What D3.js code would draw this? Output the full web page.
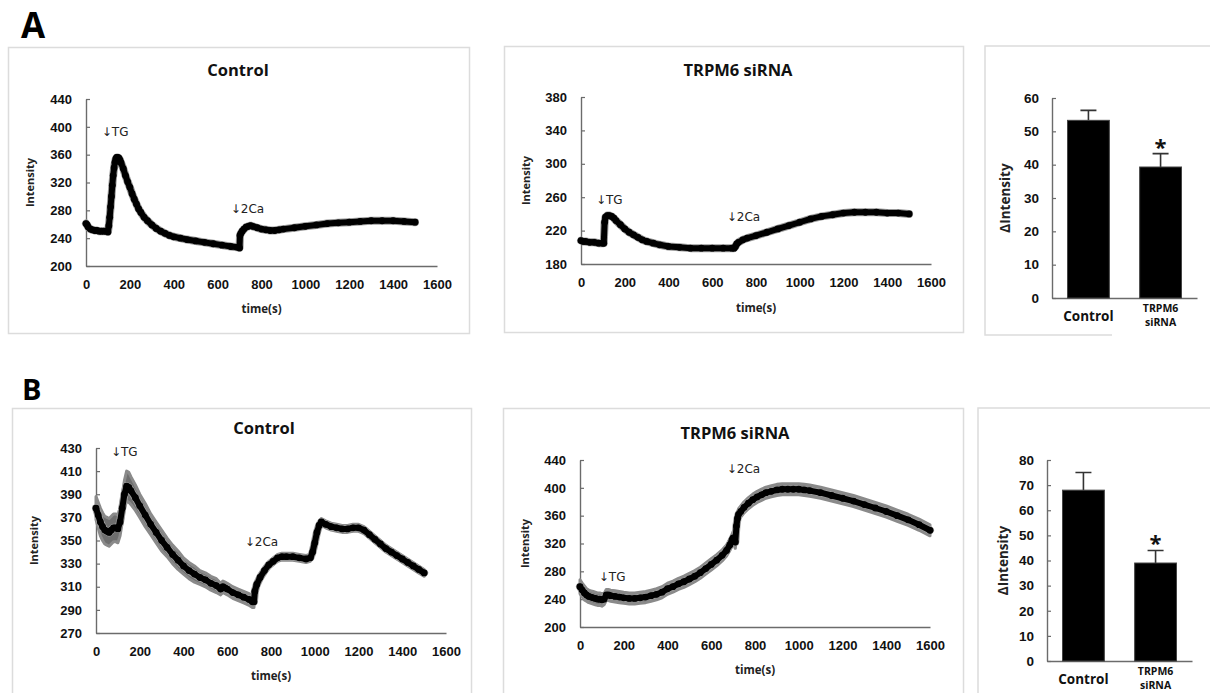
<!DOCTYPE html>
<html>
<head>
<meta charset="utf-8">
<script src="https://cdn.jsdelivr.net/npm/d3@7"></script>
<style>
    body { margin: 0; background: #fff; }
    svg { font-family: "Open Sans", Lato, "DejaVu Sans", sans-serif; }
</style>
</head>
<body>
<div id="chart"></div>
<script>
// ---- data ----
const xTicks = [0, 200, 400, 600, 800, 1000, 1200, 1400, 1600]

// A, control
const aCtrlTime = [0, 5, 10, 20, 30, 40, 50, 60, 70, 80, 90, 100, 104, 108, 112, 116, 120, 124, 128, 132,
    136, 140, 145, 150, 155, 160, 170, 180, 190, 200, 210, 220, 230, 240, 250, 265, 280, 300, 320, 340,
    360, 380, 400, 430, 460, 500, 540, 580, 620, 660, 690, 700, 702, 706, 712, 720, 730, 740, 750, 760,
    780, 800, 820, 840, 860, 880, 900, 950, 1000, 1050, 1100, 1150, 1200, 1250, 1300, 1350, 1400, 1450, 1500]
const aCtrlMean = [261, 259, 256, 253, 252, 251, 251, 250, 250, 250, 250, 249, 258, 270, 285, 300, 316, 330, 341, 349,
    354, 356, 356, 355, 352, 348, 340, 330, 321, 313, 304, 296, 289, 282, 277, 270, 265, 259, 254, 250,
    247, 244, 242, 240, 238, 236, 234, 232, 230, 228, 227, 226, 244, 247, 250, 253, 256, 257, 258, 257,
    255, 253, 252, 251, 251, 252, 253, 255, 257, 259, 261, 262, 263, 264, 265, 265, 265, 264, 263]
const aCtrlYTicks = [200, 240, 280, 320, 360, 400, 440]

// A, TRPM6 siRNA
const aSiTime = [0, 10, 20, 40, 60, 80, 100, 104, 108, 112, 120, 130, 140, 150, 160, 180, 200, 220, 240, 260,
    280, 300, 330, 360, 400, 450, 500, 550, 600, 650, 690, 700, 706, 712, 720, 740, 760, 800, 850, 900,
    950, 1000, 1050, 1100, 1150, 1200, 1250, 1300, 1350, 1400, 1450, 1500]
const aSiMean = [208, 207, 207, 206, 206, 205, 205, 205, 230, 236, 238, 238, 237, 235, 232, 227, 222, 218, 215, 212,
    209, 207, 205, 203, 201, 200, 199, 199, 199, 199, 199, 199, 201, 204, 206, 209, 211, 214, 218, 222,
    226, 230, 234, 237, 239, 241, 242, 242, 242, 241, 241, 240]
const aSiYTicks = [180, 220, 260, 300, 340, 380]

// B, control
const bCtrlTime = [0, 10, 20, 30, 40, 50, 60, 70, 80, 90, 100, 110, 120, 130, 140, 150, 160, 180, 200, 225,
    250, 275, 300, 325, 350, 375, 400, 425, 450, 475, 500, 525, 550, 570, 580, 590, 600, 625, 650, 675,
    700, 715, 722, 726, 735, 750, 770, 790, 810, 830, 850, 870, 900, 930, 960, 980, 990, 1000, 1010, 1020,
    1030, 1050, 1075, 1100, 1125, 1150, 1175, 1200, 1225, 1250, 1275, 1300, 1325, 1350, 1375, 1400, 1425, 1450, 1475, 1500]
const bCtrlMean = [378, 372, 366, 362, 359, 358, 357, 359, 361, 361, 360, 366, 378, 390, 397, 396, 393, 387, 380, 372,
    364, 357, 350, 344, 338, 333, 328, 324, 321, 318, 316, 313, 311, 308, 310, 309, 308, 305, 303, 301,
    299, 297, 297, 306, 312, 318, 324, 329, 332, 335, 336, 336, 336, 335, 334, 335, 340, 348, 357, 363,
    366, 364, 362, 361, 360, 360, 361, 361, 359, 355, 351, 347, 343, 340, 337, 334, 331, 328, 325, 322]
const bCtrlSem = [10, 11, 12, 12, 12, 12, 12, 12, 12, 12, 12, 12, 12, 12, 13, 13, 12, 11, 10, 10,
    9, 9, 9, 8, 8, 8, 7, 7, 7, 6, 6, 6, 6, 5, 5, 5, 5, 5, 5, 5,
    5, 5, 5, 3, 3, 3, 3, 3, 3, 3, 3, 3, 3, 3, 3, 3, 3, 3, 3, 3,
    3, 3, 3, 3, 3, 3, 3, 3, 3, 3, 3, 3, 3, 3, 3, 3, 3, 3, 3, 3]
const bCtrlYTicks = [270, 290, 310, 330, 350, 370, 390, 410, 430]

// B, TRPM6 siRNA
const bSiTime = [0, 10, 20, 30, 40, 50, 60, 70, 80, 90, 100, 110, 120, 130, 140, 160, 180, 200, 225, 250,
    275, 300, 325, 350, 375, 400, 425, 450, 475, 500, 525, 550, 575, 600, 625, 650, 670, 685, 695, 700,
    705, 710, 715, 720, 725, 735, 750, 770, 790, 810, 830, 850, 875, 900, 925, 950, 975, 1000, 1025, 1050,
    1100, 1150, 1200, 1250, 1300, 1350, 1400, 1450, 1500, 1550, 1600]
const bSiMean = [258, 253, 249, 246, 244, 243, 242, 241, 240, 240, 239, 240, 246, 246, 245, 244, 243, 242, 241, 241,
    242, 243, 245, 247, 250, 255, 258, 262, 265, 269, 273, 278, 284, 290, 296, 303, 310, 318, 325, 328,
    326, 322, 345, 356, 362, 366, 372, 378, 383, 387, 390, 393, 395, 397, 398, 398, 398, 398, 397, 396,
    393, 389, 385, 381, 376, 371, 366, 360, 354, 347, 339]
const bSiSem = [10, 10, 10, 9, 9, 9, 9, 9, 9, 9, 9, 8, 8, 8, 8, 8, 8, 8, 8, 8,
    8, 8, 8, 8, 8, 8, 8, 8, 8, 8, 8, 8, 8, 8, 8, 8, 8, 8, 8, 9,
    9, 9, 9, 9, 8, 8, 8, 8, 8, 8, 8, 8, 8, 8, 8, 8, 8, 8, 8, 8,
    8, 8, 8, 8, 8, 8, 8, 8, 8, 8, 8]
const bSiYTicks = [200, 240, 280, 320, 360, 400, 440]

// bar panels
const barCategories = ["Control", "TRPM6 siRNA"]
const aBarMean = [53.3, 39.3]
const aBarErr = [3.0, 4.0]
const aBarYTicks = [0, 10, 20, 30, 40, 50, 60]
const bBarMean = [68, 39]
const bBarErr = [7, 5]
const bBarYTicks = [0, 10, 20, 30, 40, 50, 60, 70, 80]
const barSignif = [false, true]

// ---- drawing ----
const svg = d3.select("#chart")
    .append("svg")
    .attr("width", 1210)
    .attr("height", 693)

const axisColor = "#6b6b6b"
const boxColor = "#dcdcdc"

function styleAxis(g, size) {
    g.select(".domain").attr("stroke", axisColor).attr("stroke-width", 1.4)
    g.selectAll(".tick line").attr("stroke", axisColor).attr("stroke-width", 1.2)
    g.selectAll(".tick text")
        .attr("fill", "#111")
        .style("font-size", size + "px")
        .style("font-weight", "bold")
}

function LineChart(o) {
    const g = svg.append("g")

    g.append("rect")
        .attr("x", o.box[0] + 0.5)
        .attr("y", o.box[1] + 0.5)
        .attr("width", o.box[2])
        .attr("height", o.box[3])
        .attr("fill", "none")
        .attr("stroke", boxColor)
        .attr("stroke-width", 1.5)

    const xScale = d3.scaleLinear()
        .domain([0, 1600])
        .range([o.left, o.right])

    const yScale = d3.scaleLinear()
        .domain(d3.extent(o.yTicks))
        .range([o.bottom, o.top])

    const yAxis = d3.axisLeft(yScale)
        .tickValues(o.yTicks)
        .tickFormat(d3.format("d"))
        .tickSizeInner(-4)
        .tickSizeOuter(0)
        .tickPadding(14)

    const xAxis = d3.axisBottom(xScale)
        .tickValues(xTicks)
        .tickFormat(d3.format("d"))
        .tickSize(0)
        .tickPadding(14)

    g.append("g")
        .attr("class", "axis y-axis")
        .attr("transform", `translate(${o.left}, 0)`)
        .call(yAxis)
        .call(s => styleAxis(s, 13))

    g.append("g")
        .attr("class", "axis x-axis")
        .attr("transform", `translate(0, ${o.bottom})`)
        .call(xAxis)
        .call(s => styleAxis(s, 13))

    const data = o.time.map((t, i) => ({t: t, v: o.mean[i], e: o.sem ? o.sem[i] : 0}))

    if (o.sem) {
        const band = d3.area()
            .x(d => xScale(d.t))
            .y0(d => yScale(d.v - d.e))
            .y1(d => yScale(d.v + d.e))
        g.append("path")
            .datum(data)
            .attr("fill", "#6e6e6e")
            .attr("stroke", "#8a8a8a")
            .attr("stroke-width", 3)
            .attr("stroke-linejoin", "round")
            .attr("d", band)
    }

    const line = d3.line()
        .x(d => xScale(d.t))
        .y(d => yScale(d.v))

    g.append("path")
        .datum(data)
        .attr("fill", "none")
        .attr("stroke", "#9a9a9a")
        .attr("stroke-width", 8)
        .attr("stroke-linejoin", "round")
        .attr("stroke-linecap", "round")
        .attr("d", line)

    g.append("path")
        .datum(data)
        .attr("fill", "none")
        .attr("stroke", "#000")
        .attr("stroke-width", 6)
        .attr("stroke-linejoin", "round")
        .attr("stroke-linecap", "round")
        .attr("d", line)

    g.selectAll(".pt")
        .data(data)
        .join("circle")
        .attr("class", "pt")
        .attr("cx", d => xScale(d.t))
        .attr("cy", d => yScale(d.v))
        .attr("r", 3.4)
        .attr("fill", "#000")

    g.selectAll(".note")
        .data(o.notes)
        .join("text")
        .attr("class", "note")
        .attr("x", d => xScale(d.t))
        .attr("y", d => yScale(d.v))
        .attr("dy", "0.35em")
        .attr("fill", "#222")
        .style("font-family", "'DejaVu Sans', sans-serif")
        .style("font-size", "12px")
        .text(d => d.label)

    g.append("text")
        .attr("x", o.titleX)
        .attr("y", o.titleY)
        .attr("text-anchor", "middle")
        .attr("dy", "0.35em")
        .style("font-size", "16.5px")
        .style("font-weight", "bold")
        .attr("fill", "#111")
        .text(o.title)

    g.append("text")
        .attr("x", (o.left + o.right) / 2)
        .attr("y", o.xLabelY)
        .attr("text-anchor", "middle")
        .attr("dy", "0.35em")
        .style("font-size", "11.5px")
        .style("font-weight", "bold")
        .attr("fill", "#222")
        .text("time(s)")

    g.append("text")
        .attr("transform", `translate(${o.yLabelX}, ${(o.top + o.bottom) / 2}) rotate(-90)`)
        .attr("text-anchor", "middle")
        .attr("dy", "0.35em")
        .style("font-size", "11px")
        .style("font-weight", "bold")
        .attr("fill", "#222")
        .text("Intensity")
}

function BarChart(o) {
    const g = svg.append("g")

    g.append("path")
        .attr("d", d3.line()(o.frame))
        .attr("fill", "none")
        .attr("stroke", boxColor)
        .attr("stroke-width", 1.5)

    const xScale = d3.scaleBand()
        .domain(barCategories)
        .range([o.left, o.right])
        .paddingInner(0.42)
        .paddingOuter(0.215)

    const yScale = d3.scaleLinear()
        .domain(d3.extent(o.yTicks))
        .range([o.bottom, o.top])

    g.append("g")
        .attr("class", "axis y-axis")
        .attr("transform", `translate(${o.left}, 0)`)
        .call(d3.axisLeft(yScale).tickValues(o.yTicks).tickSizeInner(-4).tickSizeOuter(0).tickPadding(13))
        .call(s => styleAxis(s, 13.5))

    g.append("g")
        .attr("class", "axis x-axis")
        .attr("transform", `translate(0, ${o.bottom})`)
        .call(d3.axisBottom(xScale).tickSize(0).tickFormat(""))
        .call(s => styleAxis(s, 13))

    const data = barCategories.map((c, i) => ({c: c, v: o.mean[i], e: o.err[i], s: barSignif[i]}))

    g.selectAll(".err")
        .data(data)
        .join("path")
        .attr("class", "err")
        .attr("d", d => {
            const cx = xScale(d.c) + xScale.bandwidth() / 2
            const y1 = yScale(d.v + d.e)
            return `M${cx},${yScale(d.v)}V${y1}M${cx - 8},${y1}H${cx + 8}`
        })
        .attr("fill", "none")
        .attr("stroke", "#333")
        .attr("stroke-width", 1.6)

    g.selectAll(".bar")
        .data(data)
        .join("rect")
        .attr("class", "bar")
        .attr("x", d => xScale(d.c))
        .attr("y", d => yScale(d.v))
        .attr("width", xScale.bandwidth())
        .attr("height", d => yScale(0) - yScale(d.v))
        .attr("fill", "#000")
        .attr("stroke", "#444")
        .attr("stroke-width", 1)

    g.selectAll(".star")
        .data(data.filter(d => d.s))
        .join("text")
        .attr("class", "star")
        .attr("x", d => xScale(d.c) + xScale.bandwidth() / 2)
        .attr("y", d => yScale(d.v + d.e) + 1)
        .attr("text-anchor", "middle")
        .style("font-size", "22px")
        .style("font-weight", "bold")
        .attr("fill", "#111")
        .text("*")

    // one text per label line, so lines stay apart
    data.forEach(d => {
        const cx = xScale(d.c) + xScale.bandwidth() / 2
        const parts = d.c.split(" ")
        parts.forEach((p, i) => {
            const single = parts.length === 1
            g.append("text")
                .attr("class", "cat")
                .attr("x", cx)
                .attr("y", single ? o.bottom + 18 : o.bottom + 10 + i * 14.5)
                .attr("dy", "0.35em")
                .attr("text-anchor", "middle")
                .attr("fill", "#111")
                .style("font-weight", "bold")
                .style("font-size", single ? "13.5px" : "10.5px")
                .text(p)
        })
    })

    g.append("text")
        .attr("transform", `translate(${o.yLabelX}, ${(o.top + o.bottom) / 2}) rotate(-90)`)
        .attr("text-anchor", "middle")
        .attr("dy", "0.35em")
        .style("font-size", "13.5px")
        .style("font-weight", "bold")
        .attr("fill", "#222")
        .text("ΔIntensity")
}

// panel letters
svg.append("text").attr("x", 21).attr("y", 38).style("font-size", "35px").style("font-weight", "bold").text("A")
svg.append("text").attr("x", 22).attr("y", 400).style("font-size", "29px").style("font-weight", "bold").text("B")

LineChart({
    box: [8, 47, 461, 286], left: 86, right: 437, top: 99, bottom: 266,
    titleX: 238, titleY: 70, xLabelY: 309, yLabelX: 30,
    title: "Control", time: aCtrlTime, mean: aCtrlMean, yTicks: aCtrlYTicks,
    notes: [{t: 72, v: 393, label: "↓TG"}, {t: 660, v: 282, label: "↓2Ca"}]
})

LineChart({
    box: [504, 46, 459, 286], left: 581, right: 931, top: 97, bottom: 264,
    titleX: 738, titleY: 70, xLabelY: 308, yLabelX: 526,
    title: "TRPM6 siRNA", time: aSiTime, mean: aSiMean, yTicks: aSiYTicks,
    notes: [{t: 68, v: 257, label: "↓TG"}, {t: 666, v: 237, label: "↓2Ca"}]
})

LineChart({
    box: [12, 408, 459, 400], left: 96, right: 446, top: 448, bottom: 633,
    titleX: 264, titleY: 428, xLabelY: 676, yLabelX: 34,
    title: "Control", time: bCtrlTime, mean: bCtrlMean, sem: bCtrlSem, yTicks: bCtrlYTicks,
    notes: [{t: 68, v: 426.5, label: "↓TG"}, {t: 680, v: 349, label: "↓2Ca"}]
})

LineChart({
    box: [503, 408, 460, 400], left: 580, right: 930, top: 460, bottom: 627,
    titleX: 735, titleY: 433, xLabelY: 670, yLabelX: 525,
    title: "TRPM6 siRNA", time: bSiTime, mean: bSiMean, sem: bSiSem, yTicks: bSiYTicks,
    notes: [{t: 86, v: 272, label: "↓TG"}, {t: 671, v: 427, label: "↓2Ca"}]
})

BarChart({
    frame: [[1112, 335], [985, 335], [985, 46], [1212, 46]],
    left: 1052, right: 1197, top: 98, bottom: 298, yLabelX: 1005,
    mean: aBarMean, err: aBarErr, yTicks: aBarYTicks
})

BarChart({
    frame: [[978, 700], [978, 408], [1212, 408]],
    left: 1047, right: 1192, top: 460, bottom: 661, yLabelX: 1003,
    mean: bBarMean, err: bBarErr, yTicks: bBarYTicks
})
</script>
</body>
</html>
